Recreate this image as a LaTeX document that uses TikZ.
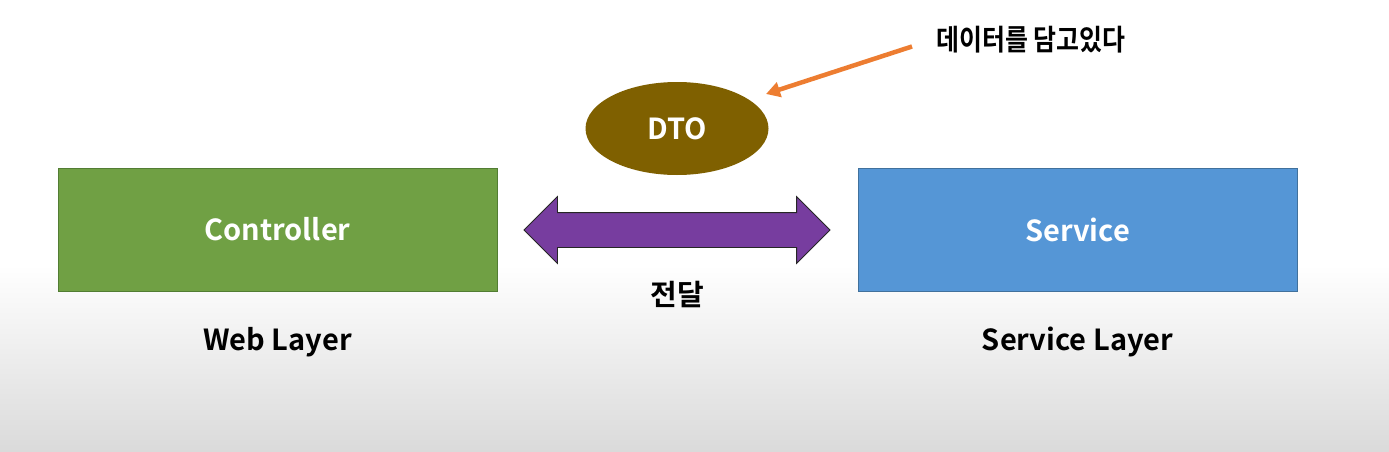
\documentclass[tikz,border=0pt]{standalone}
\usepackage{fontspec}
\setmainfont{Noto Sans CJK KR}[BoldFont={* Bold}]
\usetikzlibrary{shapes.geometric,shapes.arrows,arrows.meta}
\definecolor{ctrlfill}{HTML}{70A044}
\definecolor{ctrlline}{HTML}{527D33}
\definecolor{svcfill}{HTML}{5596D6}
\definecolor{svcline}{HTML}{41719C}
\definecolor{dtofill}{HTML}{7F6000}
\definecolor{passfill}{HTML}{773D9F}
\definecolor{notecol}{HTML}{ED7D31}
\definecolor{bgbottom}{HTML}{DADADA}
\tikzset{
  txt/.style={font=\bfseries\fontsize{29}{34}\selectfont},
  layerbox/.style={rectangle, minimum width=439pt, minimum height=123pt, line width=0.8pt, text=white, txt, inner sep=0pt},
  caption/.style={txt, text=black, inner sep=0pt},
}
\begin{document}
\begin{tikzpicture}[x=1pt,y=-1pt]
\useasboundingbox (0,0) rectangle (1389,452);
\fill[white] (0,0) rectangle (1389,452);
\shade[top color=white, bottom color=bgbottom] (0,265) rectangle (1389,452);

\node[layerbox, fill=ctrlfill, draw=ctrlline] (ctrl) at (277.5,229.5) {Controller};
\node[layerbox, fill=svcfill, draw=svcline] (svc) at (1077.5,229.5) {Service};

\node[caption] (web) at (277.5,342) {Web Layer};
\node[caption] (svclayer) at (1077.5,342) {Service Layer};

\node[ellipse, fill=dtofill, minimum width=183pt, minimum height=93pt, text=white, txt, inner sep=0pt] (dto) at (677,128.5) {DTO};

\node[double arrow, double arrow tip angle=90, double arrow head extend=16pt, double arrow head indent=0pt,
      text height=17pt, text depth=17pt, minimum height=306pt, inner sep=0pt,
      fill=passfill, draw=black!85, line width=0.8pt] (pass) at (677,230) {};

\node[caption] (passlbl) at (677,294) {전달};

\node[caption, anchor=west] (note) at (936,40) {\scalebox{0.86}[1]{데이터를 담고있다}};
\coordinate (tail) at (912,46.5);
\coordinate (tip) at (766,94);
\draw[notecol, line width=4.5pt, -{Triangle[length=14pt,width=15pt]}] (tail) -- (tip);
\end{tikzpicture}
\end{document}
